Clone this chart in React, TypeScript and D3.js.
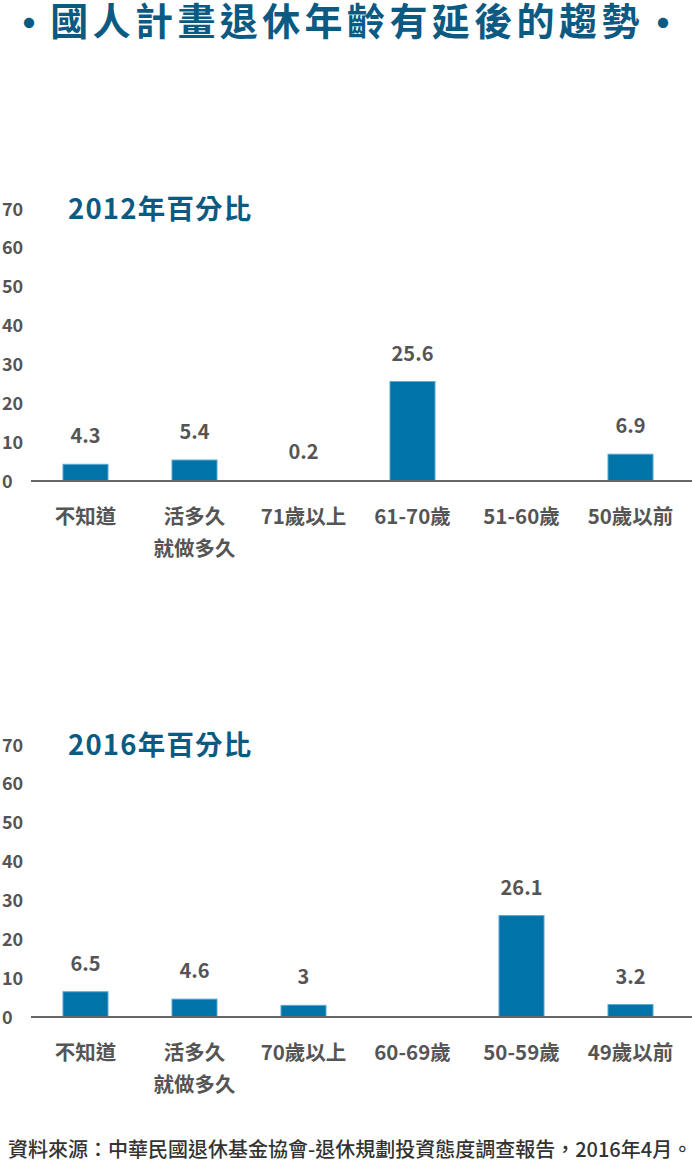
import React from "react";
import * as d3 from "d3";

const mainTitle = "國人計畫退休年齡有延後的趨勢";
const source = "資料來源：中華民國退休基金協會-退休規劃投資態度調查報告，2016年4月。";
const yTicks = [0, 10, 20, 30, 40, 50, 60, 70];

const title2012 = "2012年百分比";
const cats2012 = ["不知道", "活多久\n就做多久", "71歲以上", "61-70歲", "51-60歲", "50歲以前"];
const vals2012: (number | null)[] = [4.3, 5.4, 0.2, 25.6, null, 6.9];

const title2016 = "2016年百分比";
const cats2016 = ["不知道", "活多久\n就做多久", "70歲以上", "60-69歲", "50-59歲", "49歲以前"];
const vals2016: (number | null)[] = [6.5, 4.6, 3, null, 26.1, 3.2];

const FONT = "'Noto Sans CJK TC', 'Noto Sans', sans-serif";
const BLUE = "#0073a8";
const TITLE_BLUE = "#0b5a82";
const GRAY = "#555555";

function Panel({ top, title, cats, vals }: { top: number; title: string; cats: string[]; vals: (number | null)[] }) {
  const y0 = top + 272;
  const y = d3.scaleLinear().domain([0, 70]).range([y0, top]);
  const x = d3
    .scaleBand<string>()
    .domain(cats)
    .range([31, 685])
    .paddingInner(0.587)
    .paddingOuter(0.2935);
  return (
    <g>
      <text x={68} y={top + 10} fontFamily={FONT} fontWeight={700} fontSize={27.5} letterSpacing={1.2} fill={TITLE_BLUE}>
        {title}
      </text>
      {yTicks.map((t) => (
        <text key={t} x={2} y={y(t) + 6.5} fontFamily={FONT} fontWeight={700} fontSize={18} fill={GRAY}>
          {t}
        </text>
      ))}
      {cats.map((c, i) => {
        const v = vals[i];
        const cx = (x(c) as number) + x.bandwidth() / 2;
        return (
          <g key={c}>
            {v !== null && v > 0.5 && (
              <rect
                x={x(c)}
                y={y(v)}
                width={x.bandwidth()}
                height={y0 - y(v)}
                fill={BLUE}
                stroke="#5aa8d2"
                strokeWidth={1}
              />
            )}
            {v !== null && (
              <text
                x={cx}
                y={y(v) - 21}
                textAnchor="middle"
                fontFamily={FONT}
                fontWeight={700}
                fontSize={20}
                fill={GRAY}
              >
                {v}
              </text>
            )}
            {c.split("\n").map((line, j) => (
              <text
                key={j}
                x={cx}
                y={y0 + 43 + j * 32}
                textAnchor="middle"
                fontFamily={FONT}
                fontWeight={700}
                fontSize={20.5}
                fill={GRAY}
              >
                {line}
              </text>
            ))}
          </g>
        );
      })}
      <line x1={31} x2={692} y1={y0} y2={y0} stroke="#666" strokeWidth={2} />
    </g>
  );
}

export default function App() {
  return (
    <svg
      width={692}
      height={1163}
      style={{ position: "absolute", left: 0, top: 0, background: "#fff" }}
    >
      <text
        x={29}
        y={21}
        textAnchor="middle"
        dominantBaseline="central"
        fontFamily={FONT}
        fontWeight={700}
        fontSize={40}
        fill={TITLE_BLUE}
      >
        •
      </text>
      <text
        x={347}
        y={35}
        textAnchor="middle"
        fontFamily={FONT}
        fontWeight={700}
        fontSize={38}
        letterSpacing={4.4}
        fill={TITLE_BLUE}
      >
        {mainTitle}
      </text>
      <text
        x={663}
        y={21}
        textAnchor="middle"
        dominantBaseline="central"
        fontFamily={FONT}
        fontWeight={700}
        fontSize={40}
        fill={TITLE_BLUE}
      >
        •
      </text>
      <Panel top={209} title={title2012} cats={cats2012} vals={vals2012} />
      <Panel top={745} title={title2016} cats={cats2016} vals={vals2016} />
      <text x={8} y={1157} fontFamily={FONT} fontWeight={500} fontSize={20} fill="#333">
        {source}
      </text>
    </svg>
  );
}
